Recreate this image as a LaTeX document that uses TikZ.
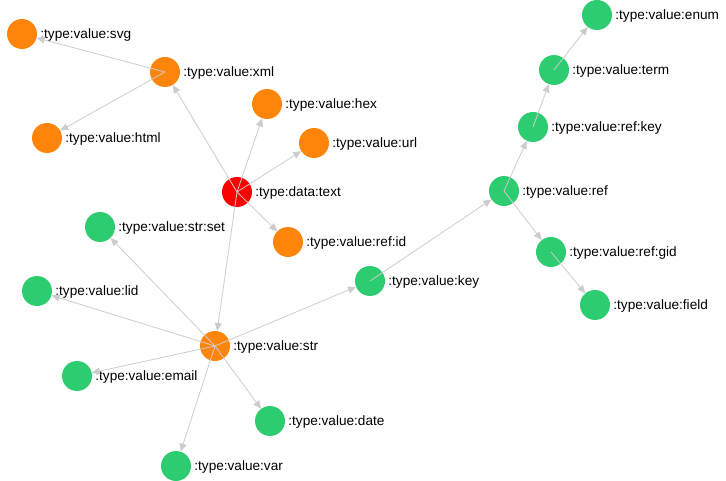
\documentclass[tikz,border=0pt]{standalone}
\usepackage{fontspec}
\setmainfont{Liberation Sans}
\usetikzlibrary{arrows.meta}
\definecolor{nodeorange}{RGB}{255,132,10}
\definecolor{nodegreen}{RGB}{46,204,113}
\definecolor{nodered}{RGB}{255,0,0}
\definecolor{edgegray}{RGB}{204,204,204}
\tikzset{
  vtx/.style={circle,minimum size=30pt,inner sep=0pt,draw=none,
    label={[font=\fontsize{13.6}{15}\selectfont,inner sep=0pt,xshift=3pt,yshift=-1pt]east:#1}},
  og/.style={vtx=#1,fill=nodeorange},
  gr/.style={vtx=#1,fill=nodegreen},
  rd/.style={vtx=#1,fill=nodered},
  edge/.style={draw=edgegray,line width=0.8pt,-{Triangle[length=8pt,width=7pt]}}
}
\begin{document}
\begin{tikzpicture}[x=1pt,y=-1pt]
\useasboundingbox (0,0) rectangle (726,481);
\node[og=:type:value:svg] (svg) at (22,34) {};
\node[og=:type:value:xml] (xml) at (165,72) {};
\node[og=:type:value:html] (html) at (47,138) {};
\node[og=:type:value:hex] (hex) at (267,104) {};
\node[og=:type:value:url] (url) at (314,143) {};
\node[rd=:type:data:text] (text) at (237,192) {};
\node[og=:type:value:ref:id] (refid) at (288,242) {};
\node[gr=:type:value:str:set] (strset) at (100,227) {};
\node[gr=:type:value:lid] (lid) at (37,291) {};
\node[og=:type:value:str] (str) at (215,346) {};
\node[gr=:type:value:email] (email) at (77,376) {};
\node[gr=:type:value:date] (date) at (270,421) {};
\node[gr=:type:value:var] (var) at (176,466) {};
\node[gr=:type:value:key] (key) at (370,281) {};
\node[gr=:type:value:ref] (ref) at (504,191) {};
\node[gr=:type:value:ref:key] (refkey) at (533,127) {};
\node[gr=:type:value:term] (term) at (554,70) {};
\node[gr=:type:value:enum] (enum) at (597,15) {};
\node[gr=:type:value:ref:gid] (refgid) at (551,252) {};
\node[gr=:type:value:field] (field) at (595,305) {};
\foreach \s/\t in {xml/svg,xml/html,text/xml,text/hex,text/url,text/refid,text/str,
  str/strset,str/lid,str/email,str/date,str/var,str/key,key/ref,ref/refkey,
  refkey/term,term/enum,ref/refgid,refgid/field}
  \draw[edge] (\s.center) -- (\t);
\end{tikzpicture}
\end{document}
